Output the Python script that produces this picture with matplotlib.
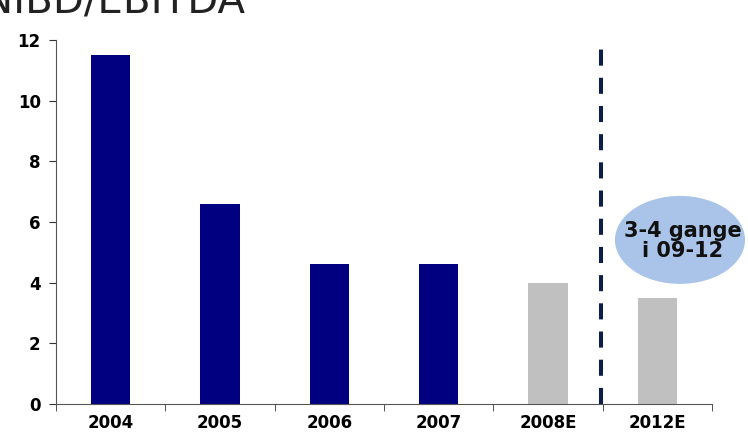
import matplotlib.pyplot as plt
import numpy as np
from matplotlib.patches import Ellipse

years = ['2004', '2005', '2006', '2007', '2008E', '2012E']
values = [11.5, 6.6, 4.6, 4.6, 4.0, 3.5]
colors = ['#000080', '#000080', '#000080', '#000080', '#C0C0C0', '#C0C0C0']

fig = plt.figure(figsize=(7.48, 4.32), dpi=100)
ax = fig.add_axes([0.0749, 0.0648, 0.877, 0.8426])

x = np.arange(len(years))
ax.bar(x, values, width=0.36, color=colors)

ax.set_xlim(-0.5, len(years) - 0.5)
ax.set_ylim(0, 12)
ax.set_yticks(range(0, 13, 2))
ax.set_xticks(x)
ax.set_xticklabels(years, fontweight='bold', fontsize=12)
ax.set_xticks(np.arange(-0.5, len(years), 1), minor=True)
ax.tick_params(axis='x', which='major', length=0, pad=7)
ax.tick_params(axis='x', which='minor', length=5, color='#333333', direction='out')
ax.tick_params(axis='y', length=5, color='#333333', direction='out', labelsize=12, pad=6)
for lab in ax.get_yticklabels():
    lab.set_fontweight('bold')

for s in ['top', 'right']:
    ax.spines[s].set_visible(False)
for s in ['left', 'bottom']:
    ax.spines[s].set_color('#555555')

# forecast separator
ax.axvline(4.48, color='#0C1E4A', lw=2.9, linestyle=(0, (4, 3)), clip_on=False)

ell = Ellipse((5.207, 5.41), 1.19, 2.9, facecolor='#A9C4E8', edgecolor='none',
              clip_on=False, zorder=3)
ax.add_patch(ell)
ax.text(5.23, 5.38, '3-4 gange\ni 09-12', ha='center', va='center',
        fontweight='bold', fontsize=15, color='#111111', zorder=4,
        linespacing=1.0)

fig.text(-0.023, 0.97, 'NIBD/EBITDA', fontsize=29, color='#222222',
         ha='left', va='baseline')

fig.savefig('out.png', dpi=100)
